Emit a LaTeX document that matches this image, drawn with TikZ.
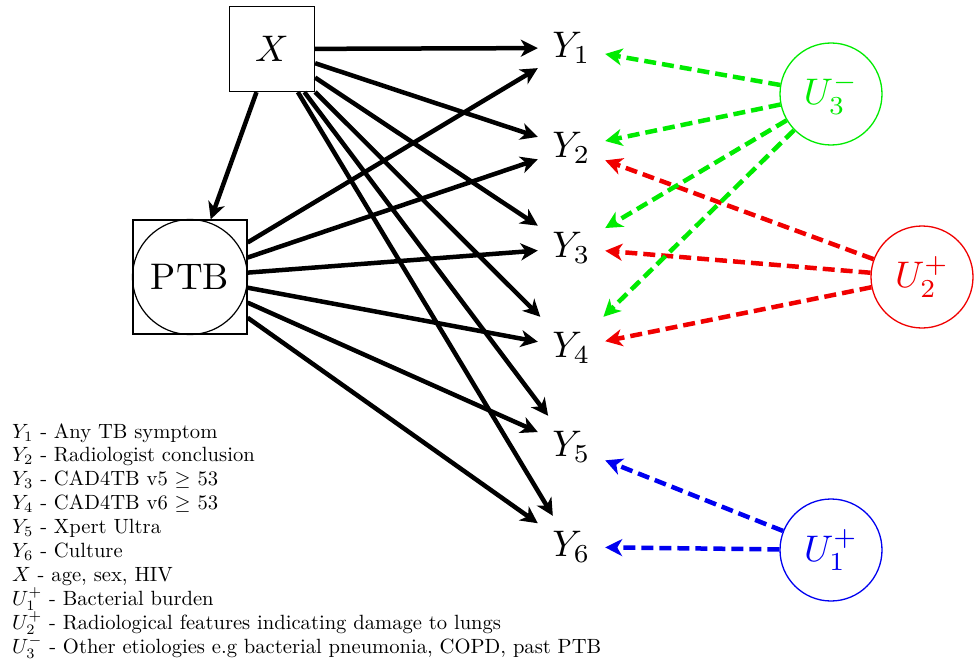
\documentclass[tikz,border=0pt]{standalone}
\usetikzlibrary{arrows.meta}
\definecolor{ugreen}{RGB}{0,235,0}
\definecolor{ured}{RGB}{240,0,0}
\definecolor{ublue}{RGB}{0,0,240}
\newcommand\bigtxt[1]{\scalebox{3.7}{#1}}
\newcommand\legtxt[1]{\scalebox{2.06}{#1}}
\tikzset{
  ynode/.style={minimum width=67pt, minimum height=62pt, inner sep=0pt},
  boxnode/.style={draw, line width=1.2pt, minimum size=85pt, inner sep=0pt},
  ucirc/.style={circle, draw, line width=1.3pt, minimum size=102pt, inner sep=0pt},
  solidarr/.style={line width=4.5pt, -{Stealth[length=17pt,width=17pt,inset=5pt]}},
  dasharr/.style={line width=4.5pt, dash pattern=on 12pt off 6pt, -{Stealth[length=17pt,width=17pt,inset=5pt]}},
  legend/.style={anchor=base west, inner sep=0pt},
}
\begin{document}
\begin{tikzpicture}[x=1pt,y=-1pt]
\useasboundingbox (0,0) rectangle (979,666);
% nodes
\node[boxnode] (X) at (272,49) {\bigtxt{$X$}};
\node[draw, line width=1.2pt, minimum size=114pt, inner sep=0pt] (PTBbox) at (190,277) {};
\node[circle, draw, line width=1.2pt, minimum size=115pt, inner sep=0pt] (PTB) at (190,277) {\bigtxt{PTB}};
\node[ynode] (Y1) at (571.5,48) {\bigtxt{$Y_1$}};
\node[ynode] (Y2) at (571.5,148) {\bigtxt{$Y_2$}};
\node[ynode] (Y3) at (571.5,248) {\bigtxt{$Y_3$}};
\node[ynode] (Y4) at (571.5,348) {\bigtxt{$Y_4$}};
\node[ynode] (Y5) at (571.5,447) {\bigtxt{$Y_5$}};
\node[ynode] (Y6) at (571.5,547) {\bigtxt{$Y_6$}};
\node[ucirc, ugreen, text=ugreen] (U3) at (831,94) {\bigtxt{$U_3^-$}};
\node[ucirc, ured, text=ured] (U2) at (922,277) {\bigtxt{$U_2^+$}};
\node[ucirc, ublue, text=ublue] (U1) at (831,550) {\bigtxt{$U_1^+$}};
% black arrows
\draw[solidarr] (X) -- (PTBbox);
\foreach \y in {1,...,6} {
  \draw[solidarr] (X) -- (Y\y);
  \draw[solidarr] (PTBbox) -- (Y\y);
}
% dashed arrows
\draw[dasharr, ured] (U2) -- (Y2);
\draw[dasharr, ured] (U2) -- (Y3);
\draw[dasharr, ured] (U2) -- (Y4);
\draw[dasharr, ugreen] (U3) -- (Y1);
\draw[dasharr, ugreen] (U3) -- (Y2);
\draw[dasharr, ugreen] (U3) -- (Y3);
\draw[dasharr, ugreen] (U3) -- (Y4);
\draw[dasharr, ublue] (U1) -- (Y5);
\draw[dasharr, ublue] (U1) -- (Y6);
% legend
\node[legend] (L1) at (12,438) {\legtxt{$Y_1$ - Any TB symptom}};
\node[legend] (L2) at (12,461.9) {\legtxt{$Y_2$ - Radiologist conclusion}};
\node[legend] (L3) at (12,485.8) {\legtxt{$Y_3$ - CAD4TB v5 $\geq$ 53}};
\node[legend] (L4) at (12,509.7) {\legtxt{$Y_4$ - CAD4TB v6 $\geq$ 53}};
\node[legend] (L5) at (12,533.6) {\legtxt{$Y_5$ - Xpert Ultra}};
\node[legend] (L6) at (12,557.5) {\legtxt{$Y_6$ - Culture}};
\node[legend] (L7) at (12,581.4) {\legtxt{$X$ - age, sex, HIV}};
\node[legend] (L8) at (12,605.3) {\legtxt{$U_1^+$ - Bacterial burden}};
\node[legend] (L9) at (12,629.2) {\legtxt{$U_2^+$ - Radiological features indicating damage to lungs}};
\node[legend] (L10) at (12,653.1) {\legtxt{$U_3^-$ - Other etiologies e.g bacterial pneumonia, COPD, past PTB}};
\end{tikzpicture}
\end{document}
